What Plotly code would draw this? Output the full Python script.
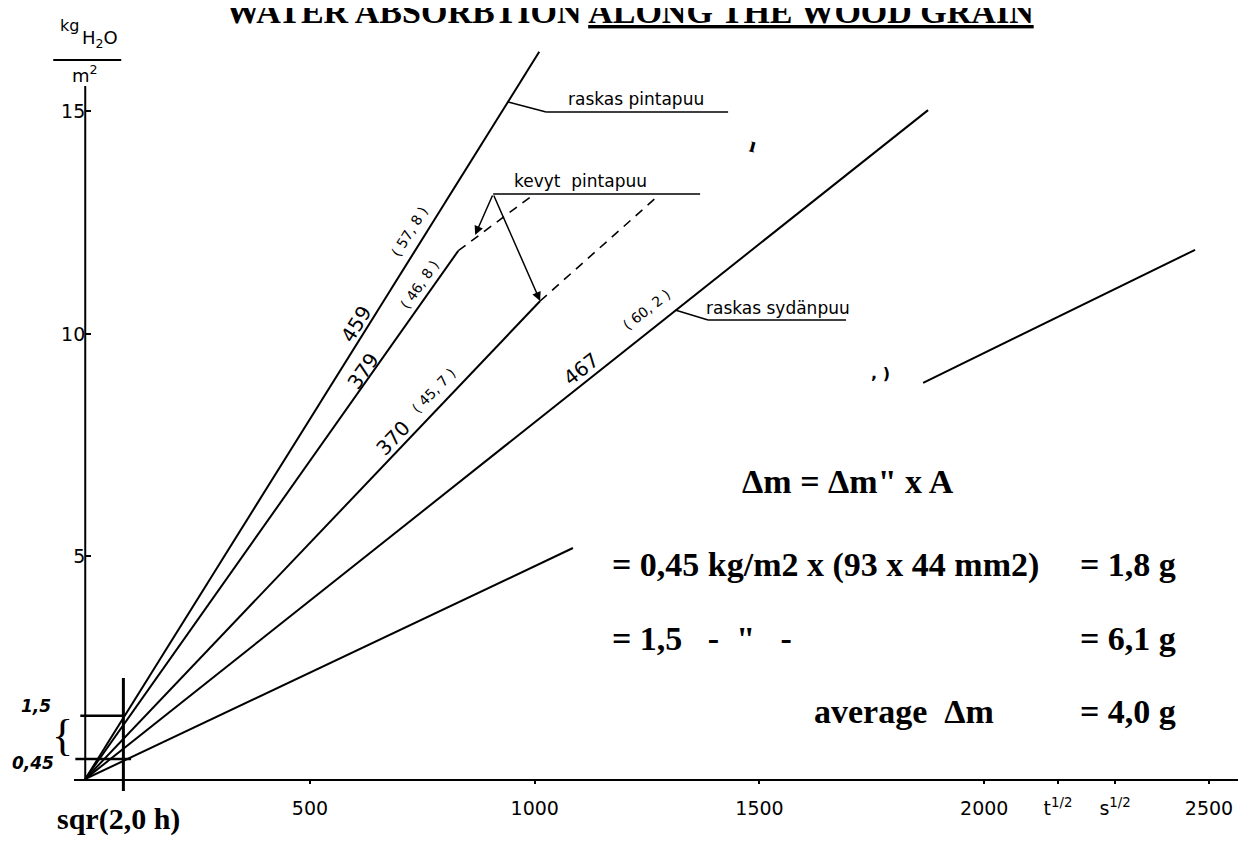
import plotly.graph_objects as go

# ---------------- data (x: sqrt(time) [s^1/2], y: absorbed water [kg H2O / m2]) ----------------
rp_x = [0, 1010];   rp_y = [0, 16.34]            # raskas pintapuu 459 (57,8)
k379_x = [0, 830];  k379_y = [0, 11.87]          # kevyt pintapuu 379 (46,8), measured part
k379d_x = [830, 996]; k379d_y = [11.87, 13.12]   # dashed continuation
k370_x = [0, 1012]; k370_y = [0, 10.74]          # kevyt pintapuu 370 (45,7), measured part
k370d_x = [1012, 1274]; k370d_y = [10.74, 13.10] # dashed continuation
rs_x = [0, 1875];   rs_y = [0, 15.03]            # raskas sydänpuu 467 (60,2)
low_x = [0, 1085, None, 1864, 2469]
low_y = [0, 5.19, None, 8.90, 11.89]             # lowest line (interrupted by the text block)
level_y = [1.42, 0.45]                           # marked levels "1,5" and "0,45"
level_x0 = [-11, -22]; level_x1 = [84.5, 102]
sqr2h = (2.0 * 3600) ** 0.5                      # sqrt(2,0 h) in s^1/2

x_tickvals = [500, 1000, 1500, 2000, 2164, 2291, 2500]
x_ticktext = ["500", "1000", "1500", "2000", "t<sup>1/2</sup>", "s<sup>1/2</sup>", "2500"]
y_tickvals = [5, 10, 15]
y_ticktext = ["5", "10", "15"]

# ---------------- geometry of the page ----------------
W, H = 1246, 841
X0PX, XS = 77, 0.4496      # pixel of x=0, pixels per unit
Y0PX, YS = 771, 44.5       # pixel of y=0, pixels per unit
XMIN, XMAX = -25, 2589
YMIN, YMAX = 0, 16.65
ML = X0PX + XMIN * XS
MR = W - (X0PX + XMAX * XS)
MB = H - Y0PX
MT = H - MB - (YMAX - YMIN) * YS
PW = W - ML - MR
PH = H - MT - MB


def D(px, py):
    return (px - X0PX) / XS, (Y0PX - py) / YS


def P(px, py):
    return (px - ML) / PW, (H - MB - py) / PH


def paper_y(y):
    return (y - YMIN) / (YMAX - YMIN)


BLK = "black"
fig = go.Figure()

def line(x, y, dash="solid", w=2):
    fig.add_trace(go.Scatter(x=x, y=y, mode="lines", line=dict(color=BLK, width=w, dash=dash),
                             hoverinfo="skip", showlegend=False))

line(rp_x, rp_y)
line(k379_x, k379_y)
line(k379d_x, k379d_y, dash="9px,7px", w=1.6)
line(k370_x, k370_y)
line(k370d_x, k370d_y, dash="9px,7px", w=1.6)
line(rs_x, rs_y)
line(low_x, low_y)
for yv, xa, xb in zip(level_y, level_x0, level_x1):
    line([xa, xb], [yv, yv], w=2.5)

shapes = []
shapes.append(dict(type="line", xref="x", yref="y", x0=0, x1=0, y0=0, y1=15.57,
                   line=dict(color=BLK, width=2)))
shapes.append(dict(type="line", xref="x", yref="paper", x0=sqr2h, x1=sqr2h,
                   y0=paper_y(-0.27), y1=paper_y(2.27), line=dict(color=BLK, width=3)))


def seg(p, q, w=1.5):
    a, b = P(*p), P(*q)
    shapes.append(dict(type="line", xref="paper", yref="paper", x0=a[0], y0=a[1], x1=b[0], y1=b[1],
                       line=dict(color=BLK, width=w)))

seg((500, 94), (538, 104)); seg((538, 104), (720, 104))      # raskas pintapuu
seg((485, 186), (692, 186))                                  # kevyt pintapuu
seg((667, 302), (700, 312)); seg((700, 312), (838, 312))     # raskas sydänpuu

annotations = []


def txt(s, px, py, size, family="DejaVu Sans", angle=0, xanchor="center", yanchor="middle"):
    x, y = P(px, py)
    annotations.append(dict(text=s, x=x, y=y, xref="paper", yref="paper", showarrow=False,
                            font=dict(family=family, size=size, color=BLK), textangle=angle,
                            xanchor=xanchor, yanchor=yanchor))


def arrow(tail, head):
    t, h = D(*tail), D(*head)
    annotations.append(dict(text="", x=h[0], y=h[1], ax=t[0], ay=t[1], xref="x", yref="y",
                            axref="x", ayref="y", showarrow=True, arrowhead=2, arrowsize=1.2,
                            arrowwidth=1.5, arrowcolor=BLK))

SERIF = "Liberation Serif"
# title: cut by the upper page edge, as in the scanned original
txt("<b>WATER ABSORBTION <u>ALONG THE WOOD GRAIN</u></b>", 622, 3.5, 34, family=SERIF)

txt("kg", 61, 18, 16)
txt("H<sub>2</sub>O", 92, 31, 18)
seg((45, 52), (113, 52), w=2)
txt("m<sup>2</sup>", 77, 66, 18)

txt("raskas pintapuu", 628, 91, 17)
txt("kevyt  pintapuu", 572, 173, 17)
txt("raskas sydänpuu", 770, 300, 17)
arrow((485, 186), (467, 227))
arrow((485, 186), (532, 293))

txt("459", 348, 316, 20, angle=-58)
txt("( 57, 8 )", 401, 224, 14, angle=-58)
txt("379", 355, 363, 20, angle=-55)
txt("( 46, 8 )", 411, 277, 14, angle=-55)
txt("370", 385, 430, 20, angle=-46)
txt("( 45, 7 )", 425, 383, 14, angle=-46)
txt("467", 573, 361, 20, angle=-38)
txt("( 60, 2 )", 638, 302, 14, angle=-38)

txt("<b><i>1,5</i></b>", 28, 698, 17)
txt("<b><i>0,45</i></b>", 25, 755, 17)
txt("{", 54, 728, 44, family=SERIF)

txt("<b>sqr(2,0 h)</b>", 110, 811, 30, family=SERIF)

FS = 34
txt("<b>Δm = Δm\" x A</b>", 840, 474, FS, family=SERIF)
txt("<b>= 0,45 kg/m2 x (93 x 44 mm2)</b>", 602, 557, FS, family=SERIF, xanchor="left")
txt("<b>= 1,8 g</b>", 1170, 557, FS, family=SERIF, xanchor="right")
txt("<b>= 1,5   -  \"   -</b>", 602, 631, FS, family=SERIF, xanchor="left")
txt("<b>= 6,1 g</b>", 1170, 631, FS, family=SERIF, xanchor="right")
txt("<b>average  Δm</b>", 804, 704, FS, family=SERIF, xanchor="left")
txt("<b>= 4,0 g</b>", 1170, 704, FS, family=SERIF, xanchor="right")

txt("<b>ı</b>", 745, 137, 22, family=SERIF, angle=15)
txt("<b>, )</b>", 872, 366, 16)

fig.update_layout(
    width=W, height=H,
    margin=dict(l=ML, r=MR, t=MT, b=MB, pad=0),
    paper_bgcolor="white", plot_bgcolor="white",
    showlegend=False,
    shapes=shapes, annotations=annotations,
    xaxis=dict(range=[XMIN, XMAX], showgrid=False, zeroline=False, showline=True,
               linecolor=BLK, linewidth=2, ticks="outside", ticklen=3, tickwidth=2,
               tickcolor=BLK, tickvals=x_tickvals, ticktext=x_ticktext,
               tickfont=dict(family="DejaVu Sans", size=19, color=BLK), ticklabelstandoff=8),
    yaxis=dict(range=[YMIN, YMAX], showgrid=False, zeroline=False, showline=False,
               anchor="free", position=(X0PX - ML) / PW,
               ticks="inside", ticklen=5, tickwidth=2, tickcolor=BLK,
               tickvals=y_tickvals, ticktext=y_ticktext, ticklabelstandoff=0,
               tickfont=dict(family="DejaVu Sans", size=19, color=BLK)),
)

fig.write_html("out.html")
